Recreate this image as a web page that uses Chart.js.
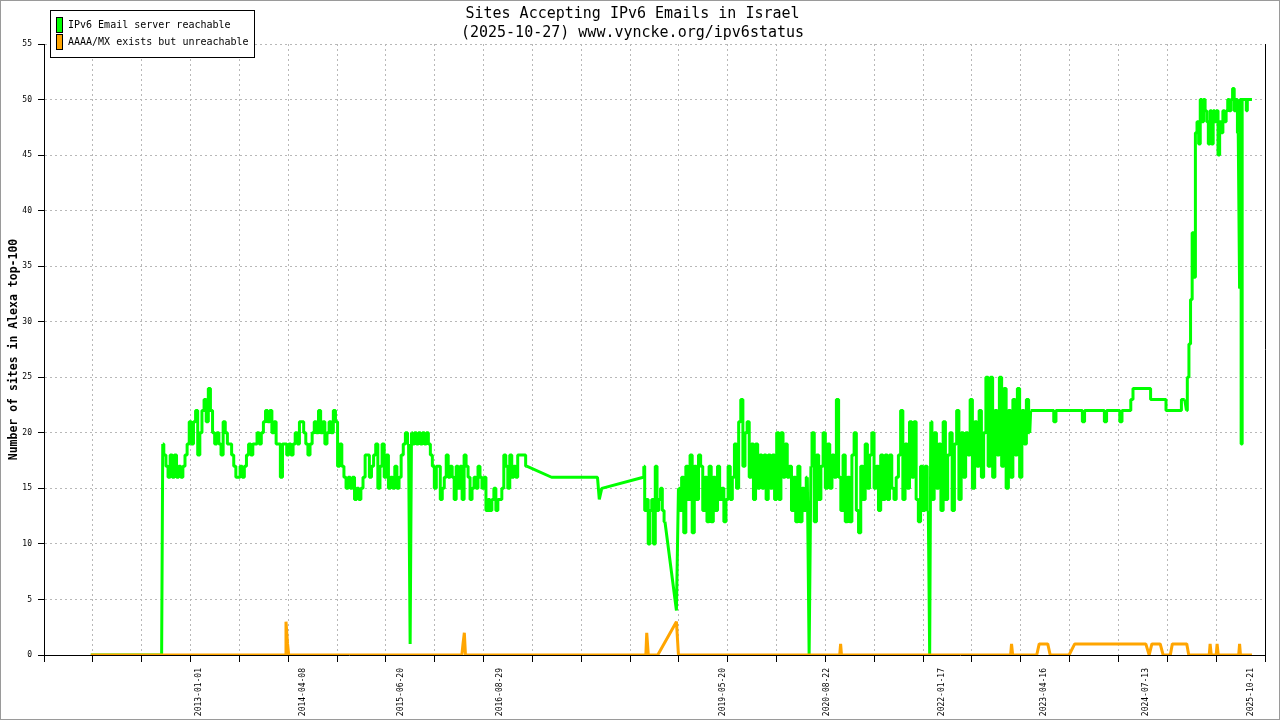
<!DOCTYPE html>
<html>
<head>
<meta charset="utf-8">
<title>Sites Accepting IPv6 Emails in Israel</title>
<script src="https://cdn.jsdelivr.net/npm/chart.js@4.4.1/dist/chart.umd.min.js"></script>
<style>
html, body { margin: 0; padding: 0; background: #fff; }
#chart { display: block; }
</style>
</head>
<body>
<canvas id="chart" width="1280" height="720"></canvas>
<script>
var chartTitle = ['Sites Accepting IPv6 Emails in Israel', '(2025-10-27) www.vyncke.org/ipv6status'];
var seriesNames = ['IPv6 Email server reachable', 'AAAA/MX exists but unreachable'];
var seriesColors = ['#00ff00', '#ffa500'];
var yAxisTitle = 'Number of sites in Alexa top-100';

var xStart = '2011-02-12';
var xEnd = '2025-12-24';
var xGridSteps = 25;
var xLabelDates = ['2013-01-01', '2014-04-08', '2015-06-20', '2016-08-29', '2019-05-20',
	'2020-08-22', '2022-01-17', '2023-04-16', '2024-07-13', '2025-10-21'];
var yMin = 0;
var yMax = 55;
var yStep = 5;

// green series: runs of samples, each run spread evenly from its first to its last date
var greenRunFrom = ['2011-09-08', '2012-07-24', '2015-07-29', '2015-08-04', '2017-04-18',
	'2017-11-08', '2017-11-16', '2017-11-27', '2018-05-31', '2018-06-02', '2018-10-25',
	'2018-11-03', '2020-06-06', '2020-06-14', '2021-11-24', '2021-11-29', '2023-02-16',
	'2025-01-09', '2025-09-02'];
var greenRunTo = ['2012-07-19', '2015-07-22', '2015-07-29', '2016-12-28', '2017-04-18',
	'2017-11-08', '2017-11-16', '2017-11-27', '2018-05-31', '2018-09-04', '2018-10-25',
	'2020-05-29', '2020-06-06', '2021-11-18', '2021-11-24', '2023-02-12', '2025-01-01',
	'2025-08-27', '2025-10-27'];
var greenRunValues = [
	[0, 0],
	[19, 18, 17, 16, 18, 16, 18, 16, 17, 16,
	17, 18, 19, 21, 19, 21, 22, 18, 20, 22,
	23, 21, 24, 22, 20, 19, 20, 19, 18, 21,
	20, 19, 19, 18, 17, 16, 16, 17, 16, 17,
	18, 19, 18, 19, 19, 20, 19, 20, 21, 22,
	21, 22, 20, 21, 19, 19, 16, 19, 19, 18,
	19, 18, 19, 20, 19, 21, 21, 20, 19, 18,
	19, 20, 21, 20, 22, 20, 21, 19, 20, 21,
	20, 22, 21, 17, 19, 17, 16, 15, 16, 15,
	16, 14, 15, 14, 15, 16, 18, 18, 16, 17,
	18, 19, 15, 17, 19, 16, 18, 15, 16, 15,
	17, 15, 16, 18, 19, 20, 19],
	[1],
	[20, 19, 20, 19, 20, 19, 20, 19, 20, 19,
	18, 17, 15, 17, 17, 14, 15, 16, 18,
	16, 17, 16, 14, 17, 15, 17, 14, 18, 17,
	16, 14, 15, 16, 15, 17, 16, 15, 16, 13,
	14, 13, 14, 15, 13, 14, 14, 15, 18, 17,
	15, 18, 16, 17, 16, 18, 18, 18, 18, 17],
	[16],
	[16],
	[14],
	[15],
	[16],
	[17, 13, 14, 10, 13, 14, 10, 17, 13, 14, 15, 13, 12],
	[4],
	[15, 13, 16, 11, 17, 14, 18, 11, 17, 14, 18,
	17, 13, 16, 12, 17, 12, 16, 13, 17, 14, 15, 12, 14, 17, 14, 16, 19, 15, 21, 23,
	17, 20, 21, 16, 19, 14, 19, 15, 18, 15, 18, 14, 18, 15, 18, 14, 20, 14, 20, 16,
	19, 16, 17, 13, 16, 12, 17, 12, 15, 13, 16],
	[0],
	[17, 20, 12, 18, 14, 17, 20, 15, 19, 15, 18, 16, 23, 16,
	13, 18, 12, 16, 12, 18, 20, 13, 11, 17, 14, 19, 15, 18, 20, 15, 17, 13, 18, 14,
	18, 14, 18, 15, 14, 16, 18, 22, 14, 19, 15, 21, 16, 21, 14, 12, 17, 13, 17, 13],
	[0],
	[21, 14, 20, 15, 19, 13, 21, 14, 18, 20, 13, 19, 22, 14, 20, 16, 20, 18, 23, 15,
	21, 17, 22, 16, 20, 25, 17, 25, 16, 22, 18, 25, 17, 24, 15, 22, 16, 23, 18, 24,
	16, 22, 19, 23, 20],
	[22, 22, 22, 22, 22, 22, 22, 22, 22, 22, 22, 21,
	22, 22, 22, 22, 22, 22, 22, 22, 22, 22, 22, 22, 21,
	22, 22, 22, 22, 22, 22, 22, 22, 22, 21,
	22, 22, 22, 22, 22, 22, 21,
	22, 22, 22, 22, 23,
	24, 24, 24, 24, 24, 24, 24, 24,
	23, 23, 23, 23, 23, 23, 23,
	22, 22, 22, 22, 22, 22, 22,
	23, 23],
	[22, 25, 28, 32, 38, 34, 47, 48, 46, 50, 48, 50, 49, 48, 46, 49, 46, 49, 48, 49,
	45, 48, 47, 49, 48, 49, 50, 49, 50, 51, 49, 50, 47],
	[33, 50, 19, 50, 50, 50, 50, 49, 50, 50, 50, 50, 50]
];

// orange series: zero most of the time, explicit points around each change
var orangeDates = ['2011-09-08', '2014-01-19', '2014-01-23', '2014-01-30', '2014-02-04',
	'2016-03-15', '2016-03-20', '2016-03-26', '2016-03-31', '2018-06-11', '2018-06-15',
	'2018-06-22', '2018-08-03', '2018-10-25', '2018-11-03', '2020-10-20', '2020-10-24',
	'2020-10-28', '2022-11-19', '2022-11-23', '2022-11-28', '2023-03-15', '2023-03-26',
	'2023-05-03', '2023-05-14', '2023-08-06', '2023-08-31', '2024-07-12', '2024-07-27',
	'2024-08-08', '2024-09-14', '2024-09-27', '2024-10-29', '2024-11-07', '2025-01-10',
	'2025-01-19', '2025-04-20', '2025-04-24', '2025-04-29', '2025-05-21', '2025-05-25',
	'2025-05-30', '2025-08-29', '2025-09-02', '2025-09-06', '2025-10-27'];
var orangeValues = [0, 0, 3, 1, 0, 0, 1, 2, 0, 0, 2,
	0, 0, 3, 0, 0, 1,
	0, 0, 1, 0, 0, 1,
	1, 0, 0, 1, 1, 0,
	1, 1, 0, 0, 1, 1,
	0, 0, 1, 0, 0, 1,
	0, 0, 1, 0, 0];

var monoFont = '"DejaVu Sans Mono", "Liberation Mono", monospace';

function toDay(s) {
	var p = s.split('-');
	return Date.UTC(+p[0], +p[1] - 1, +p[2]) / 86400000;
}

function runPoints(r) {
	var a = toDay(greenRunFrom[r]);
	var b = toDay(greenRunTo[r]);
	var vals = greenRunValues[r];
	var points = [];
	for (var k = 0; k < vals.length; k++) {
		var x = vals.length > 1 ? a + (b - a) * k / (vals.length - 1) : a;
		points.push({'x': x, 'y': vals[k]});
	}
	return points;
}

// dense runs are drawn as steps, the links between runs as straight lines
function greenStepPoints() {
	var out = [];
	for (var r = 0; r < greenRunValues.length; r++) {
		var pts = runPoints(r);
		if (pts.length < 2) {
			continue;
		}
		out = out.concat(pts);
		out.push({'x': pts[pts.length - 1].x, 'y': null});
	}
	return out;
}

function greenLinkPoints() {
	var out = [];
	for (var r = 0; r < greenRunValues.length; r++) {
		var pts = runPoints(r);
		out.push(pts[0]);
		if (pts.length > 1) {
			out.push({'x': pts[0].x, 'y': null});
			out.push(pts[pts.length - 1]);
		}
	}
	return out;
}

function orangePoints() {
	var points = [];
	for (var i = 0; i < orangeDates.length; i++) {
		points.push({'x': toDay(orangeDates[i]), 'y': orangeValues[i]});
	}
	return points;
}

var transparent = 'rgba(0,0,0,0)';

// right edge, legend box and outer frame
var frameAndLegend = {
	'id': 'frameAndLegend',
	'afterDraw': function (chart) {
		var ctx = chart.ctx;
		var area = chart.chartArea;
		ctx.save();
		ctx.strokeStyle = '#000';
		ctx.lineWidth = 1;
		ctx.beginPath();
		ctx.moveTo(Math.round(area.right) + 0.5, area.top);
		ctx.lineTo(Math.round(area.right) + 0.5, area.bottom);
		ctx.stroke();

		ctx.fillStyle = '#fff';
		ctx.fillRect(50, 10, 205, 48);
		ctx.strokeRect(50.5, 10.5, 204, 47);
		ctx.font = '10px ' + monoFont;
		ctx.textBaseline = 'middle';
		ctx.textAlign = 'left';
		for (var i = 0; i < seriesNames.length; i++) {
			var top = 17 + i * 17;
			ctx.fillStyle = seriesColors[i];
			ctx.fillRect(56, top, 6, 16);
			ctx.strokeStyle = '#000';
			ctx.strokeRect(56.5, top + 0.5, 6, 15);
			ctx.fillStyle = '#000';
			ctx.fillText(seriesNames[i], 68, top + 8);
		}

		ctx.strokeStyle = '#9a9a9a';
		ctx.strokeRect(0.5, 0.5, chart.width - 1, chart.height - 1);
		ctx.restore();
	}
};

function lineSet(label, data, color, order, stepped) {
	return {
		'label': label,
		'data': data,
		'borderColor': color,
		'backgroundColor': color,
		'borderWidth': 3,
		'pointRadius': 0,
		'tension': 0,
		'fill': false,
		'stepped': stepped,
		'spanGaps': false,
		'borderJoinStyle': 'bevel',
		'order': order
	};
}

var config = {
	'type': 'line',
	'data': {
		'datasets': [
			lineSet(seriesNames[0], greenStepPoints(), seriesColors[0], 1, 'middle'),
			lineSet(seriesNames[0], greenLinkPoints(), seriesColors[0], 2, false),
			lineSet(seriesNames[1], orangePoints(), seriesColors[1], 0, false)
		]
	},
	'options': {
		'responsive': false,
		'animation': false,
		'devicePixelRatio': 1,
		'layout': {'padding': {'left': 0, 'right': 15, 'top': 0, 'bottom': 0}},
		'plugins': {
			'legend': {'display': false},
			'tooltip': {'enabled': false},
			'title': {
				'display': true,
				'text': chartTitle,
				'color': '#000',
				'font': {'family': monoFont, 'size': 15, 'weight': 'normal', 'lineHeight': '19px'},
				'padding': {'top': 5, 'bottom': 1}
			}
		},
		'scales': {
			'x': {
				'type': 'linear',
				'min': toDay(xStart),
				'max': toDay(xEnd),
				'afterBuildTicks': function (scale) {
					var lo = toDay(xStart);
					var hi = toDay(xEnd);
					var ticks = [];
					for (var i = 0; i <= xGridSteps; i++) {
						ticks.push({'value': lo + (hi - lo) * i / xGridSteps});
					}
					for (var j = 0; j < xLabelDates.length; j++) {
						ticks.push({'value': toDay(xLabelDates[j]), 'dateLabel': xLabelDates[j]});
					}
					scale.ticks = ticks;
				},
				'afterFit': function (scale) {
					scale.height = 65;
					scale.paddingLeft = 0;
					scale.paddingRight = 0;
				},
				'ticks': {
					'autoSkip': false,
					'minRotation': 90,
					'maxRotation': 90,
					'padding': 6,
					'color': '#000',
					'font': {'family': monoFont, 'size': 8},
					'callback': function (value, index, ticks) {
						return ticks[index].dateLabel || '';
					}
				},
				'grid': {
					'color': function (ctx) {
						if (!ctx.tick || ctx.tick.dateLabel || ctx.index === 0 || ctx.index === xGridSteps) {
							return transparent;
						}
						return '#b8b8b8';
					},
					'tickColor': function (ctx) {
						return ctx.tick && ctx.tick.dateLabel ? transparent : '#000';
					},
					'tickLength': 7,
					'lineWidth': 1
				},
				'border': {'color': '#000', 'width': 1, 'dash': [2, 3]}
			},
			'y': {
				'min': yMin,
				'max': yMax,
				'afterFit': function (scale) {
					scale.width = 44;
					scale.paddingTop = 0;
					scale.paddingBottom = 0;
				},
				'ticks': {
					'stepSize': yStep,
					'padding': 6,
					'color': '#000',
					'font': {'family': monoFont, 'size': 8}
				},
				'grid': {
					'color': function (ctx) {
						return ctx.tick && ctx.tick.value === yMin ? transparent : '#b8b8b8';
					},
					'tickColor': '#000',
					'tickLength': 6,
					'lineWidth': 1
				},
				'border': {'color': '#000', 'width': 1, 'dash': [2, 3]},
				'title': {
					'display': true,
					'text': yAxisTitle,
					'color': '#000',
					'font': {'family': monoFont, 'size': 11.5, 'weight': 'bold'},
					'padding': {'top': 7, 'bottom': 0}
				}
			}
		}
	},
	'plugins': [frameAndLegend]
};

var chart = new Chart(document.getElementById('chart'), config);
</script>
</body>
</html>
